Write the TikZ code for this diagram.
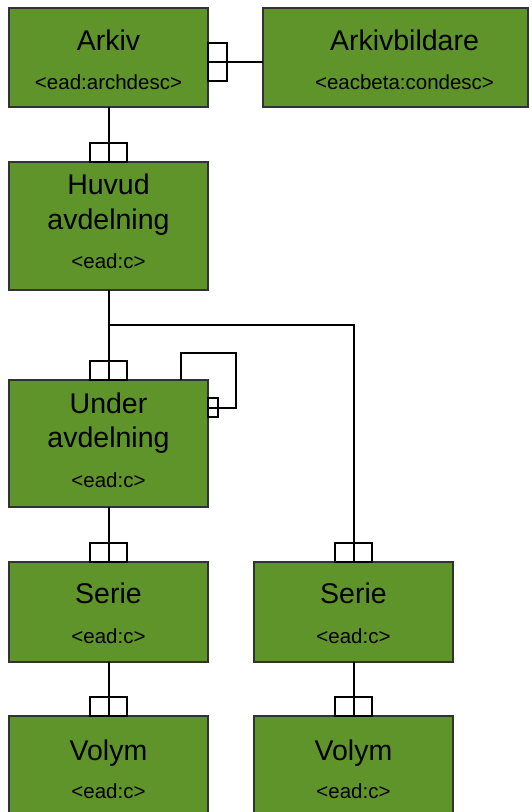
\documentclass[tikz,border=0pt]{standalone}
\usepackage{fontspec}
\setmainfont{Liberation Sans}
\usetikzlibrary{calc}
\definecolor{boxgreen}{RGB}{94,148,42}
\definecolor{boxedge}{RGB}{50,50,50}
\tikzset{
    entity/.style={draw=boxedge, line width=1.2pt, fill=boxgreen, inner sep=0pt, outer sep=0pt},
    titletext/.style={font=\fontsize{28.5}{34}\selectfont, anchor=base, inner sep=0pt},
    subtext/.style={font=\fontsize{20.5}{24}\selectfont, anchor=base, inner sep=0pt},
    link/.style={line width=2pt, black},
    onemark/.style={line width=2pt, black},
  }
\begin{document}
\begin{tikzpicture}[x=1pt,y=-1pt]
				  \clip (0,0) rectangle (532,812);
				  \useasboundingbox (0,0) rectangle (532,812);
				  
				  %ARKIV
				  \node[entity, minimum width=199pt, minimum height=99pt] (arkiv) at (108.5,57.5) {};
				  \node[titletext] (arkivT) at ($(arkiv.north)+(0,42)$) {Arkiv};
				  \node[subtext] (arkivS) at ($(arkiv.north)+(0,81)$) {<ead:archdesc>};
				  
				  %ARKIVBILDARE
				  \node[entity, minimum width=265pt, minimum height=99pt] (bildare) at (395.5,57.5) {};
				  \node[titletext] (bildareT) at ($(bildare.north)+(9,42)$) {Arkivbildare};
				  \node[subtext] (bildareS) at ($(bildare.north)+(9,81)$) {<eacbeta:condesc>};
				  
				  %HUVUD AVDELNING
				  \node[entity, minimum width=199pt, minimum height=128pt] (huvud) at (108.5,226) {};
				  \node[titletext] (huvudT) at ($(huvud.north)+(0,32)$) {Huvud};
				  \node[titletext] (huvudT2) at ($(huvud.north)+(0,67)$) {avdelning};
				  \node[subtext] (huvudS) at ($(huvud.north)+(0,106)$) {<ead:c>};
				  
				  %UNDER AVDELNING
				  \node[entity, minimum width=199pt, minimum height=127pt] (under) at (108.5,443.5) {};
				  \node[titletext] (underT) at ($(under.north)+(0,33)$) {Under};
				  \node[titletext] (underT2) at ($(under.north)+(0,67)$) {avdelning};
				  \node[subtext] (underS) at ($(under.north)+(0,107)$) {<ead:c>};
				  
				  %SERIE
				  \node[entity, minimum width=199pt, minimum height=100pt] (serieL) at (108.5,612) {};
				  \node[titletext] (serieLT) at ($(serieL.north)+(0,41)$) {Serie};
				  \node[subtext] (serieLS) at ($(serieL.north)+(0,81)$) {<ead:c>};
				  \node[entity, minimum width=199pt, minimum height=100pt] (serieR) at (353.5,612) {};
				  \node[titletext] (serieRT) at ($(serieR.north)+(0,41)$) {Serie};
				  \node[subtext] (serieRS) at ($(serieR.north)+(0,81)$) {<ead:c>};
				  
				  %VOLYM
				  \node[entity, minimum width=199pt, minimum height=100pt] (volymL) at (108.5,766) {};
				  \node[titletext] (volymLT) at ($(volymL.north)+(0,44)$) {Volym};
				  \node[subtext] (volymLS) at ($(volymL.north)+(0,82)$) {<ead:c>};
				  \node[entity, minimum width=199pt, minimum height=100pt] (volymR) at (353.5,766) {};
				  \node[titletext] (volymRT) at ($(volymR.north)+(0,44)$) {Volym};
				  \node[subtext] (volymRS) at ($(volymR.north)+(0,82)$) {<ead:c>};
				  
				  %LINKS
				  \draw[link] (arkiv.east |- 0,62) -- (bildare.west |- 0,62);
				  \draw[onemark] (arkiv.east |- 0,43) rectangle ++(19,38);
				  \draw[link] (arkiv.south) -- (huvud.north);
				  \draw[link] (huvud.south) -- (under.north);
				  \draw[link] (huvud.south |- 0,325) -| (serieR.north);
				  \draw[link] (under.south) -- (serieL.north);
				  \draw[link] (serieL.south) -- (volymL.north);
				  \draw[link] (serieR.south) -- (volymR.north);
				  
				  %SELF LOOP
				  \draw[link] ($(under.north)+(72.5,0)$) |- (236,353) |- (under.east |- 0,408);
				  \draw[onemark] (under.east |- 0,398) rectangle ++(10,19);
				  
				  %MARKS
				  \foreach \n in {huvud,under,serieL,serieR,volymL,volymR}
				    \draw[onemark] ($(\n.north)+(-18.5,-19)$) rectangle ($(\n.north)+(18.5,0)$);
				  \end{tikzpicture}
\end{document}
